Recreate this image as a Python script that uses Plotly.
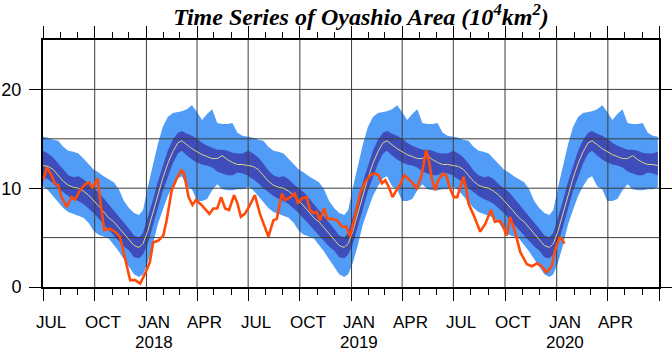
import plotly.graph_objects as go
import pandas as pd

# ---------------- data ----------------
# climatology (day offset from Jul 1 of each season)
clim_day = [0, 9, 18, 27, 36, 45, 54, 63, 72, 81, 90, 99, 108, 117, 126, 135, 144, 153, 162, 171,
            178, 186, 195, 204, 213, 222, 231, 240, 247, 256, 265, 274, 283, 292, 301, 310, 319,
            328, 337, 346, 355, 364]
clim_mean = [12.3, 12.2, 11.9, 11.3, 10.7, 10.3, 10.1, 10.0, 9.7, 9.3, 8.8, 8.2, 7.6, 7.0, 6.6, 6.0,
             5.3, 4.8, 4.2, 4.0, 4.4, 5.6, 7.4, 9.3, 11.0, 12.5, 13.7, 14.6, 14.8, 14.4, 14.0, 13.7,
             13.4, 13.2, 13.0, 13.0, 13.3, 12.9, 12.6, 12.4, 12.4, 12.3]
clim_sd_lo = [11.2, 10.9, 10.5, 10.0, 9.6, 9.2, 8.9, 8.7, 8.4, 8.0, 7.5, 6.9, 6.3, 5.8, 5.2, 4.6,
              4.1, 3.7, 3.0, 2.9, 3.3, 4.3, 6.0, 7.9, 9.7, 11.2, 12.5, 13.5, 13.8, 13.3, 12.9, 12.6,
              12.4, 12.3, 12.1, 11.7, 11.5, 11.3, 11.3, 11.6, 11.5, 11.3]
clim_sd_hi = [13.8, 13.5, 13.1, 12.5, 11.8, 11.3, 11.1, 11.2, 10.9, 10.4, 10.0, 9.6, 9.0, 8.4, 7.8,
              7.1, 6.5, 5.9, 5.2, 5.0, 5.5, 6.9, 8.7, 10.6, 12.2, 13.8, 14.9, 15.6, 15.8, 15.5, 15.3,
              15.0, 14.6, 14.3, 14.1, 13.9, 13.9, 13.8, 13.6, 13.5, 13.5, 13.7]
clim_min = [10.2, 9.8, 9.3, 8.6, 8.0, 7.6, 7.4, 7.2, 7.0, 6.5, 5.7, 5.3, 5.1, 4.9, 4.3, 3.6, 2.8,
            2.0, 1.3, 1.0, 1.3, 2.4, 4.2, 6.3, 7.8, 9.2, 10.2, 11.0, 11.2, 10.2, 9.9, 8.7, 8.7, 8.9,
            9.8, 10.4, 9.9, 9.8, 9.8, 9.9, 9.9, 10.1]
clim_max = [15.2, 15.1, 14.9, 14.8, 14.2, 13.8, 13.7, 13.5, 13.0, 12.4, 11.9, 11.6, 11.2, 10.9,
            10.6, 9.9, 8.7, 8.0, 7.5, 7.3, 7.8, 10.0, 12.2, 14.4, 16.2, 17.2, 17.6, 17.7, 17.8, 18.0,
            18.4, 17.7, 16.9, 17.5, 18.0, 16.6, 16.5, 16.5, 16.6, 15.6, 15.3, 15.2]
season_starts = ["2017-07-01", "2018-07-01", "2019-07-01"]

# observed series (day offset from 2017-07-01)
obs_start = "2017-07-01"
obs_day = [0, 7, 15, 21, 27, 33, 42, 51, 57, 66, 75, 82, 88, 97, 104, 109, 119, 128, 137, 146,
           155, 164, 173, 181, 190, 196, 205, 214, 220, 229, 238, 246, 251, 259, 266, 272, 282,
           296, 303, 310, 317, 324, 331, 340, 346, 352, 359, 365, 371, 377, 386, 395, 401, 410,
           416, 425, 431, 440, 448, 454, 460, 469, 475, 481, 487, 493, 500, 506, 514, 523, 532,
           540, 546, 555, 564, 573, 582, 591, 597, 603, 609, 614, 622, 629, 635, 643, 653, 665,
           673, 682, 687, 692, 698, 703, 712, 718, 724, 731, 737, 742, 748, 753, 757, 766, 778,
           787, 797, 804, 813, 819, 825, 831, 840, 849, 861, 870, 879, 887, 896, 905, 911, 917,
           920, 928]
obs_val = [10.8, 12.1, 11.3, 10.5, 10.3, 9.1, 8.1, 9.1, 8.85, 9.8, 10.4, 10.6, 10.0, 11.0, 7.8,
           5.75, 5.9, 5.6, 5.1, 3.0, 0.7, 0.7, 0.35, 1.3, 2.5, 4.5, 4.7, 5.2, 6.75, 9.8, 11.0, 11.8,
           11.5, 9.1, 8.3, 8.8, 8.3, 7.4, 7.95, 7.95, 9.1, 7.95, 7.8, 9.3, 8.45, 7.1, 7.4, 7.95,
           8.6, 9.3, 7.4, 6.1, 5.1, 6.75, 6.9, 9.45, 8.8, 9.1, 9.45, 8.45, 8.95, 9.1, 7.8, 7.5, 7.6,
           6.75, 7.95, 6.9, 6.9, 6.75, 6.1, 6.1, 5.1, 7.1, 9.45, 10.6, 11.3, 11.5, 11.3, 10.5, 10.8,
           10.3, 9.1, 9.8, 10.3, 11.3, 10.8, 10.0, 11.15, 13.85, 12.7, 10.9, 9.8, 10.8, 11.5, 11.2,
           10.0, 9.1, 9.1, 10.0, 11.15, 9.9, 8.45, 7.3, 5.6, 6.4, 7.8, 6.6, 6.7, 6.1, 5.2, 7.1, 5.6,
           3.55, 2.3, 2.1, 2.4, 2.1, 1.5, 2.1, 3.7, 4.7, 5.07, 4.4]

x_start, x_end = "2017-07-01", "2020-07-01"
month_names = {1: "JAN", 4: "APR", 7: "JUL", 10: "OCT"}
year_labels = ["2018", "2019", "2020"]
y_range = [0, 25]
y_ticks = [0, 10, 20]
y_grid = [5, 10, 15, 20]

# ---------------- build ----------------
cd = pd.to_timedelta(clim_day, unit="D")
dates, mean_all, slo, shi, mn, mx = [], [], [], [], [], []
for s in season_starts:
    dates += list(pd.Timestamp(s) + cd)
    mean_all += clim_mean
    slo += clim_sd_lo
    shi += clim_sd_hi
    mn += clim_min
    mx += clim_max

obs_dates = list(pd.Timestamp(obs_start) + pd.to_timedelta(obs_day, unit="D"))

LIGHT = "#519CF7"
DARK = "#3E4DBA"
GRID = "#3c3c3c"

fig = go.Figure()
fig.add_trace(go.Scatter(x=dates + dates[::-1], y=mx + mn[::-1], fill="toself",
                         fillcolor=LIGHT, line=dict(width=0), mode="lines",
                         hoverinfo="skip", showlegend=False))
fig.add_trace(go.Scatter(x=dates + dates[::-1], y=shi + slo[::-1], fill="toself",
                         fillcolor=DARK, line=dict(width=0), mode="lines",
                         hoverinfo="skip", showlegend=False))

# grid lines drawn over the bands
quarters = pd.date_range(x_start, x_end, freq="QS-JAN")
gx, gy = [], []
for q in quarters[1:-1]:
    gx += [q, q, None]
    gy += [y_range[0], y_range[1], None]
fig.add_trace(go.Scatter(x=gx, y=gy, mode="lines", line=dict(color=GRID, width=1),
                         hoverinfo="skip", showlegend=False))
hx, hy = [], []
for v in y_grid:
    hx += [pd.Timestamp(x_start), pd.Timestamp(x_end), None]
    hy += [v, v, None]
fig.add_trace(go.Scatter(x=hx, y=hy, mode="lines", line=dict(color=GRID, width=1),
                         hoverinfo="skip", showlegend=False))

fig.add_trace(go.Scatter(x=dates, y=mean_all, mode="lines",
                         line=dict(color="#D8D48A", width=1), showlegend=False))
fig.add_trace(go.Scatter(x=obs_dates, y=obs_val, mode="lines",
                         line=dict(color="#FF4A0A", width=2.6), showlegend=False))

# month and year labels
ann = []
for q in quarters[:-1]:
    ann.append(dict(x=q + pd.Timedelta(days=14), y=0, xref="x", yref="paper",
                    text=month_names[q.month], showarrow=False, yanchor="middle",
                    yshift=-35, font=dict(size=17, color="black", family="Liberation Sans")))
for yl in year_labels:
    ann.append(dict(x=pd.Timestamp(yl + "-01-15"), y=0, xref="x", yref="paper",
                    text=yl, showarrow=False, yanchor="middle", yshift=-55,
                    font=dict(size=17, color="black", family="Liberation Sans")))

fig.update_layout(
    width=672, height=351,
    margin=dict(l=43, r=13, t=40, b=64, autoexpand=False),
    paper_bgcolor="white", plot_bgcolor="white",
    title=dict(text="<b><i>Time Series of Oyashio Area (10<sup>4</sup>km<sup>2</sup>)</i></b>",
               x=361 / 672, xanchor="center", y=1 - 17 / 351, yanchor="middle",
               font=dict(family="Liberation Serif", size=24, color="black")),
    annotations=ann,
    xaxis=dict(type="date", range=[x_start, x_end], showline=True, linewidth=2,
               linecolor="black", mirror="ticks", ticks="outside", ticklen=12, tickwidth=1.3,
               tickcolor="black", tick0=x_start, dtick="M3", showticklabels=False,
               showgrid=False, zeroline=False, automargin=False,
               minor=dict(ticks="outside", ticklen=6, tickwidth=1, tickcolor="black",
                          dtick="M1", tick0=x_start, showgrid=False)),
    yaxis=dict(range=y_range, tickvals=y_ticks, showline=True, linewidth=2, linecolor="black",
               mirror="ticks", ticks="outside", ticklen=12, tickwidth=1.3, tickcolor="black",
               showgrid=False, zeroline=False, ticklabelstandoff=4, automargin=False,
               tickfont=dict(size=18, color="black", family="Liberation Sans")),
)

fig.write_html("out.html")
